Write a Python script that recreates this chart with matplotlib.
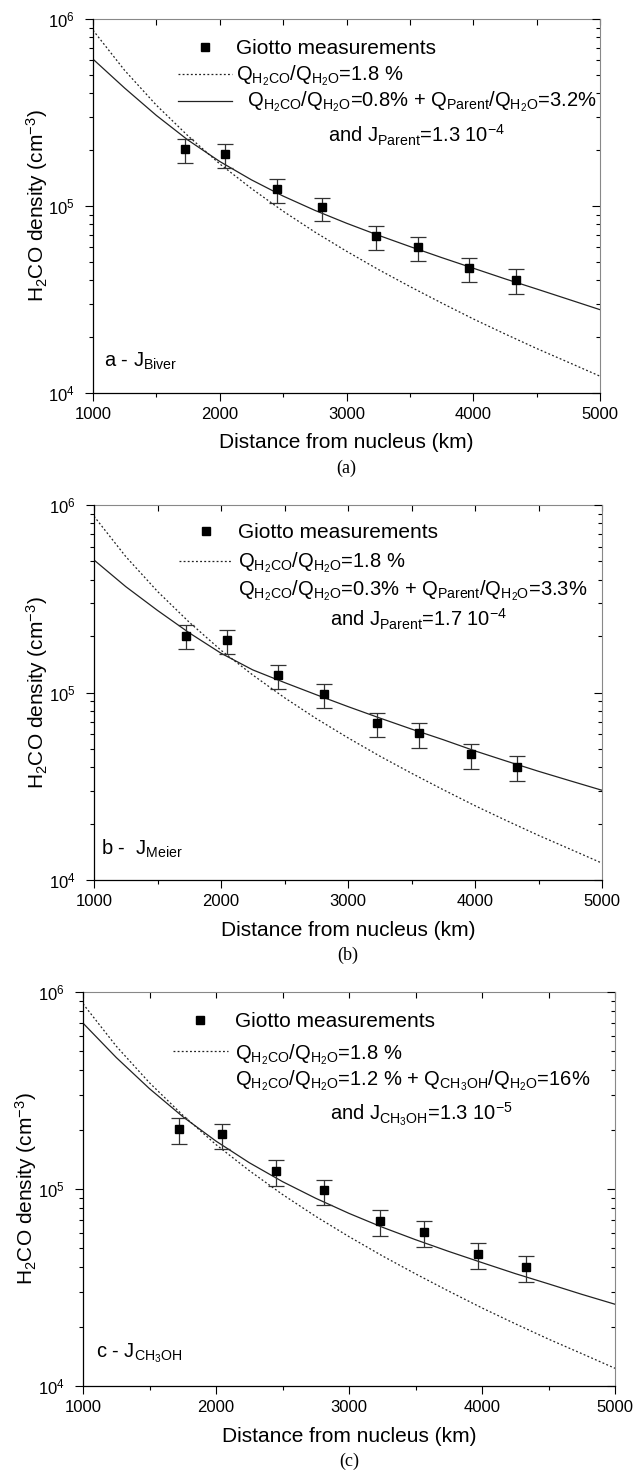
import matplotlib
matplotlib.use("Agg")
import matplotlib.pyplot as plt
from matplotlib.ticker import LogLocator, MultipleLocator, NullFormatter

plt.rcParams['font.family'] = ['Liberation Sans', 'DejaVu Sans']
plt.rcParams['mathtext.fontset'] = 'custom'
plt.rcParams['mathtext.rm'] = 'Liberation Sans'
plt.rcParams['mathtext.it'] = 'Liberation Sans:italic'
plt.rcParams['mathtext.bf'] = 'Liberation Sans:bold'

# Giotto measurements (km, cm^-3)
dist = [1724, 2044, 2451, 2809, 3232, 3562, 3969, 4334]
dens = [2.01e5, 1.90e5, 1.24e5, 9.86e4, 6.9e4, 6.06e4, 4.68e4, 4.01e4]
dens_lo = [1.70e5, 1.60e5, 1.04e5, 8.3e4, 5.8e4, 5.08e4, 3.93e4, 3.37e4]
dens_hi = [2.29e5, 2.15e5, 1.40e5, 1.11e5, 7.8e4, 6.85e4, 5.29e4, 4.58e4]

# model curves
model_x = [1000, 1250, 1500, 1750, 2000, 2250, 2500, 2750, 3000,
           3250, 3500, 3750, 4000, 4250, 4500, 4750, 5000]
direct_18 = [8.71e5, 5.31e5, 3.46e5, 2.37e5, 1.68e5, 1.24e5, 9.38e4, 7.26e4, 5.73e4,
             4.58e4, 3.71e4, 3.03e4, 2.49e4, 2.07e4, 1.73e4, 1.46e4, 1.23e4]
biver = [6.10e5, 4.27e5, 3.05e5, 2.25e5, 1.73e5, 1.38e5, 1.13e5, 9.48e4, 8.09e4,
         6.98e4, 6.07e4, 5.30e4, 4.65e4, 4.08e4, 3.60e4, 3.17e4, 2.79e4]
meier = [5.09e5, 3.67e5, 2.74e5, 2.08e5, 1.62e5, 1.32e5, 1.13e5, 9.73e4, 8.41e4,
         7.31e4, 6.38e4, 5.60e4, 4.88e4, 4.30e4, 3.80e4, 3.38e4, 3.01e4]
ch3oh = [6.95e5, 4.65e5, 3.23e5, 2.33e5, 1.75e5, 1.36e5, 1.09e5, 8.97e4, 7.52e4,
         6.40e4, 5.53e4, 4.82e4, 4.23e4, 3.72e4, 3.30e4, 2.92e4, 2.60e4]

q_direct = r'Q$_\mathregular{H_2CO}$/Q$_\mathregular{H_2O}$=1.8 %'
labels_a = [r'  Q$_\mathregular{H_2CO}$/Q$_\mathregular{H_2O}$=0.8% + Q$_\mathregular{Parent}$/Q$_\mathregular{H_2O}$=3.2%',
            r'and J$_\mathregular{Parent}$=1.3 10$^\mathregular{-4}$', r'a - J$_\mathregular{Biver}$', '(a)']
labels_b = [r'Q$_\mathregular{H_2CO}$/Q$_\mathregular{H_2O}$=0.3% + Q$_\mathregular{Parent}$/Q$_\mathregular{H_2O}$=3.3%',
            r'and J$_\mathregular{Parent}$=1.7 10$^\mathregular{-4}$', r'b -  J$_\mathregular{Meier}$', '(b)']
labels_c = [r'Q$_\mathregular{H_2CO}$/Q$_\mathregular{H_2O}$=1.2 % + Q$_\mathregular{CH_3OH}$/Q$_\mathregular{H_2O}$=16%',
            r'and J$_\mathregular{CH_3OH}$=1.3 10$^\mathregular{-5}$', r'c - J$_\mathregular{CH_3OH}$', '(c)']

W, H = 635, 1477
fig = plt.figure(figsize=(W / 100, H / 100), dpi=100)

FS = 14.5
FS_PLAIN = 15
LINE = '#222222'


def panel(px, solid, labels, solid_handle, lay):
    left, right, top, bottom = px
    axw, axh = right - left, bottom - top
    ax = fig.add_axes([left / W, 1 - bottom / H, axw / W, axh / H])
    ax.set_yscale('log')
    ax.plot(model_x, direct_18, color=LINE, lw=0.9, ls=(0, (1.5, 1.8)))
    ax.plot(model_x, solid, color=LINE, lw=0.9)
    yerr = [[d - lo for d, lo in zip(dens, dens_lo)], [hi - d for d, hi in zip(dens, dens_hi)]]
    ax.errorbar(dist, dens, yerr=yerr, fmt='s', color='black', ms=5.8,
                ecolor='#333333', elinewidth=0.9, capsize=5.5, capthick=0.9)
    ax.set_xlim(1000, 5000)
    ax.set_ylim(1e4, 1e6)

    ax.xaxis.set_major_locator(MultipleLocator(1000))
    ax.xaxis.set_minor_locator(MultipleLocator(500))
    ax.yaxis.set_major_locator(LogLocator(base=10))
    ax.yaxis.set_minor_locator(LogLocator(base=10, subs=range(2, 10)))
    ax.yaxis.set_minor_formatter(NullFormatter())
    ax.tick_params(axis='both', which='major', direction='out', length=6, width=0.8,
                   labelsize=12, top=False, right=False)
    ax.tick_params(axis='both', which='minor', direction='out', length=3, width=0.8,
                   top=False, right=False)
    ax.tick_params(axis='x', pad=4)
    ax.tick_params(axis='y', pad=7)
    for s in ['top', 'right']:
        ax.spines[s].set_visible(False)
    for s in ['left', 'bottom']:
        ax.spines[s].set_linewidth(0.9)

    sec_x = ax.secondary_xaxis('top')
    sec_x.xaxis.set_major_locator(MultipleLocator(500))
    sec_x.tick_params(direction='in', length=4, width=0.8, labeltop=False)
    sec_x.spines['top'].set_color('#888888')
    sec_y = ax.secondary_yaxis('right')
    sec_y.yaxis.set_major_locator(LogLocator(base=10))
    sec_y.yaxis.set_minor_locator(LogLocator(base=10, subs=range(2, 10)))
    sec_y.tick_params(which='major', direction='in', length=6, width=0.8, labelright=False)
    sec_y.tick_params(which='minor', direction='in', length=3, width=0.8, labelright=False)
    sec_y.yaxis.set_minor_formatter(NullFormatter())
    sec_y.spines['right'].set_color('#888888')

    ax.set_xlabel('Distance from nucleus (km)', fontsize=FS_PLAIN)
    ax.xaxis.set_label_coords(0.5, -50 / axh)
    ax.xaxis.label.set_va('center')
    ax.set_ylabel(r'H$_\mathregular{2}$CO density (cm$^\mathregular{-3}$)', fontsize=FS_PLAIN)
    ax.yaxis.set_label_coords(-(left - lay['ylab_x']) / axw, 0.5)
    ax.yaxis.label.set_va('center')

    # legend, laid out like the original
    hx0, hx1, tx = lay['hx0'], lay['hx1'], lay['tx']
    ax.plot([(hx0 + hx1) / 2], [lay['m_y']], 's', color='black', ms=5.8,
            transform=ax.transAxes, clip_on=False)
    ax.text(tx, lay['b1'], 'Giotto measurements', transform=ax.transAxes,
            fontsize=FS_PLAIN, va='baseline', ha='left')
    ax.plot([hx0, hx1], [lay['d_y'], lay['d_y']], color=LINE, lw=0.9,
            ls=(0, (1.5, 1.8)), transform=ax.transAxes)
    ax.text(tx, lay['b2'], q_direct, transform=ax.transAxes,
            fontsize=FS, va='baseline', ha='left')
    if solid_handle:
        ax.plot([hx0, hx1], [lay['s_y'], lay['s_y']], color=LINE, lw=0.9,
                transform=ax.transAxes)
    ax.text(tx, lay['b3'], labels[0], transform=ax.transAxes,
            fontsize=FS, va='baseline', ha='left')
    ax.text(lay['t4x'], lay['b4'], labels[1], transform=ax.transAxes,
            fontsize=FS, va='baseline', ha='left')
    ax.text(lay['tagx'], lay['tagb'], labels[2], transform=ax.transAxes,
            fontsize=FS, va='baseline', ha='left')

    fig.text((left + right) / 2 / W, 1 - (bottom + 75) / H, labels[3],
             family=['Liberation Serif', 'DejaVu Serif'], fontsize=13,
             ha='center', va='center')
    return ax


lay_a = dict(hx0=0.167, hx1=0.275, tx=0.283, m_y=0.924, b1=0.907, d_y=0.852, b2=0.836,
             s_y=0.782, b3=0.766, t4x=0.464, b4=0.671, tagx=0.022, tagb=0.071, ylab_x=37)
lay_b = dict(hx0=0.167, hx1=0.272, tx=0.283, m_y=0.932, b1=0.913, d_y=0.852, b2=0.834,
             s_y=0.78, b3=0.76, t4x=0.464, b4=0.676, tagx=0.014, tagb=0.067, ylab_x=37)
lay_c = dict(hx0=0.169, hx1=0.272, tx=0.286, m_y=0.93, b1=0.911, d_y=0.849, b2=0.83,
             s_y=0.78, b3=0.763, t4x=0.464, b4=0.674, tagx=0.025, tagb=0.072, ylab_x=26)

panel((93, 600, 19, 393), biver, labels_a, True, lay_a)
panel((94, 602, 505, 880), meier, labels_b, False, lay_b)
panel((83, 615, 992, 1386), ch3oh, labels_c, False, lay_c)

fig.savefig('out.png', dpi=100)
